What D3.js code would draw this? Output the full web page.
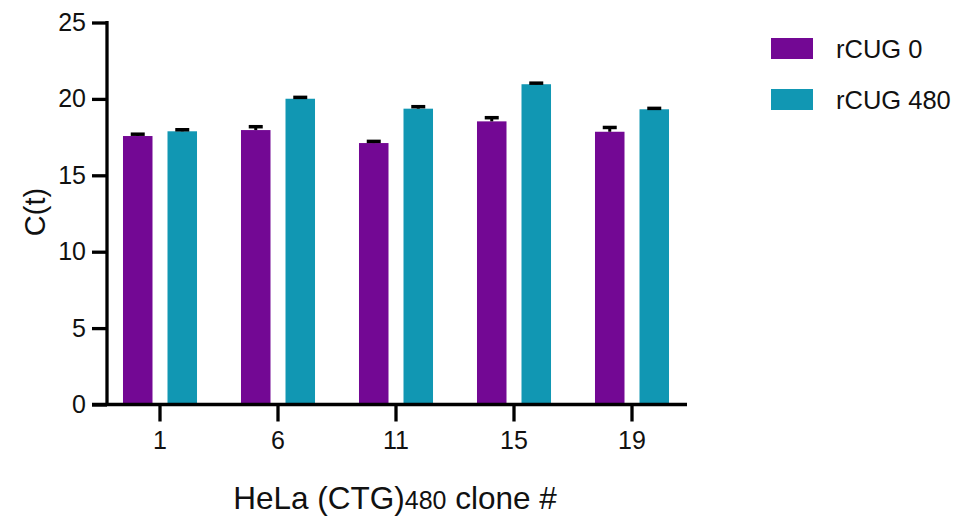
<!DOCTYPE html>
<html>
<head>
<meta charset="utf-8">
<script src="https://cdn.jsdelivr.net/npm/d3@7"></script>
<style>
  body { margin: 0; background: #fff; }
  text { font-family: "Liberation Sans", Arial, sans-serif; fill: #111; }
</style>
</head>
<body>
<div id="chart"></div>
<script>
(function () {
    var width = 978, height = 516;

    // data
    var clones = ["1", "6", "11", "15", "19"];
    var seriesNames = ["rCUG 0", "rCUG 480"];
    var rcug0 = [17.57, 17.96, 17.11, 18.53, 17.85];
    var rcug0Err = [0.12, 0.22, 0.11, 0.24, 0.28];
    var rcug480 = [17.88, 20.01, 19.36, 20.96, 19.32];
    var rcug480Err = [0.1, 0.09, 0.13, 0.07, 0.06];
    var yTicks = [0, 5, 10, 15, 20, 25];
    var colors = ["#730894", "#1197b3"];

    var svg = d3.select("#chart")
        .append("svg")
        .attr("width", width)
        .attr("height", height);

    // scales
    var x = d3.scaleBand().domain(clones).range([101, 691]);
    var xSub = d3.scaleBand().domain(seriesNames).range([0, x.bandwidth()])
        .paddingInner(0.337).paddingOuter(0.494);
    var y = d3.scaleLinear().domain([0, 25]).range([404.5, 22.5]);

    var rows = [];
    clones.forEach(function (c, i) {
        rows.push({clone: c, s: 0, v: rcug0[i], e: rcug0Err[i]});
        rows.push({clone: c, s: 1, v: rcug480[i], e: rcug480Err[i]});
    });

    function cx(d) { return x(d.clone) + xSub(seriesNames[d.s]) + xSub.bandwidth() / 2; }

    // bars
    svg.selectAll(".bar")
        .data(rows)
        .enter().append("rect")
        .attr("class", "bar")
        .attr("x", function (d) { return x(d.clone) + xSub(seriesNames[d.s]); })
        .attr("width", xSub.bandwidth())
        .attr("y", function (d) { return y(d.v); })
        .attr("height", function (d) { return y(0) - y(d.v); })
        .attr("fill", function (d) { return colors[d.s]; });

    // error bars (upper only)
    var eb = svg.selectAll(".err").data(rows).enter().append("g").attr("class", "err");
    eb.append("line")
        .attr("x1", cx).attr("x2", cx)
        .attr("y1", function (d) { return y(d.v); })
        .attr("y2", function (d) { return y(d.v + d.e); })
        .attr("stroke", "#000").attr("stroke-width", 3);
    eb.append("line")
        .attr("x1", function (d) { return cx(d) - 7; })
        .attr("x2", function (d) { return cx(d) + 7; })
        .attr("y1", function (d) { return y(d.v + d.e); })
        .attr("y2", function (d) { return y(d.v + d.e); })
        .attr("stroke", "#000").attr("stroke-width", 3.5);

    // y axis
    var yAxis = svg.append("g")
        .attr("transform", "translate(107,0)")
        .call(d3.axisLeft(y).tickValues(yTicks).tickSize(15).tickPadding(6));
    yAxis.selectAll("line, path").attr("stroke", "#000").attr("stroke-width", 3.3);
    yAxis.select(".domain").attr("d", "M0," + (y(0) + 1.6) + "V" + (y(25) - 1.6));
    yAxis.selectAll("text").attr("font-size", 25).attr("fill", "#111")
        .attr("font-family", "Liberation Sans, Arial, sans-serif");

    // x axis
    var xAxis = svg.append("g")
        .attr("transform", "translate(0," + y(0) + ")")
        .call(d3.axisBottom(x).tickSize(17).tickPadding(10));
    xAxis.select(".domain").attr("d", "M92,0H687");
    xAxis.selectAll("line, path").attr("stroke", "#000").attr("stroke-width", 3.3);
    xAxis.selectAll("text").attr("font-size", 25).attr("fill", "#111")
        .attr("font-family", "Liberation Sans, Arial, sans-serif");

    // axis titles
    svg.append("text")
        .attr("transform", "translate(45,212) rotate(-90)")
        .attr("text-anchor", "middle")
        .attr("font-size", 29)
        .text("C(t)");

    var xt = svg.append("text")
        .attr("x", 395).attr("y", 509)
        .attr("text-anchor", "middle")
        .attr("font-size", 31.5);
    xt.append("tspan").text("HeLa (CTG)");
    xt.append("tspan").attr("font-size", 25).text("480");
    xt.append("tspan").text(" clone #");

    // legend
    var lg = svg.selectAll(".legend")
        .data(seriesNames)
        .enter().append("g")
        .attr("class", "legend")
        .attr("transform", function (d, i) { return "translate(771," + (38 + i * 51) + ")"; });
    lg.append("rect").attr("width", 42).attr("height", 21)
        .attr("fill", function (d, i) { return colors[i]; });
    lg.append("text").attr("x", 65).attr("y", 20)
        .attr("font-size", 25.5)
        .text(function (d) { return d; });
})();
</script>
</body>
</html>
